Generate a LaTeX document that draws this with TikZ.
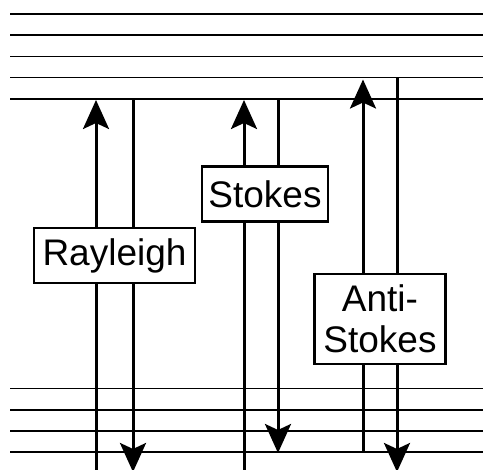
\documentclass[tikz,border=0pt]{standalone}
\usepackage{fontspec}
\setmainfont{Liberation Sans}
\usetikzlibrary{arrows.meta}
\begin{document}
\begin{tikzpicture}[x=1pt,y=-1pt,
  level/.style={line width=1.5pt},
  trans/.style={line width=3pt,-{Stealth[length=29pt,width=26pt,inset=6pt]}},
  label/.style={draw,line width=2.5pt,fill=white,font=\fontsize{37}{41.5}\selectfont,
    align=center,inner sep=0pt,minimum height=55pt}]
\useasboundingbox (0,0) rectangle (483,470);
% levels
\foreach \y [count=\i] in {14,35,56.5,77.5,99,388.5,410,431,452}
  \draw[level] (10,\y) coordinate (L\i a) -- (483,\y) coordinate (L\i b);
% coordinates of transitions
\coordinate (r1s) at (96,472); \coordinate (r1e) at (96,100);
\coordinate (r2s) at (133,99); \coordinate (r2e) at (133,472);
\coordinate (s1s) at (244,472); \coordinate (s1e) at (244,100);
\coordinate (s2s) at (278,99); \coordinate (s2e) at (278,453);
\coordinate (a1s) at (363,452); \coordinate (a1e) at (363,79.5);
\coordinate (a2s) at (397,78); \coordinate (a2e) at (397,472);
\draw[trans] (r1s) -- (r1e);
\draw[trans] (r2s) -- (r2e);
\draw[trans] (s1s) -- (s1e);
\draw[trans] (s2s) -- (s2e);
\draw[trans] (a1s) -- (a1e);
\draw[trans] (a2s) -- (a2e);
% labels
\node[label,minimum width=161pt] (ray) at (114.5,255.5) {Rayleigh};
\node[label,minimum width=126pt] (sto) at (265,194) {Stokes};
\node[label,minimum width=131pt,minimum height=90pt] (anti) at (380,319) {Anti-\\Stokes};
\end{tikzpicture}
\end{document}
